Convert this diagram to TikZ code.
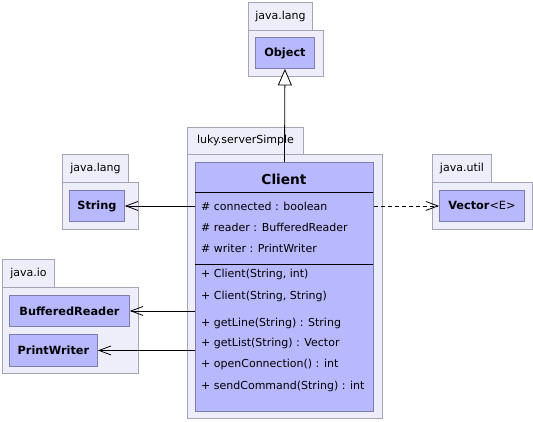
\documentclass[tikz,border=0pt]{standalone}
\usepackage{fontspec}
\setmainfont{DejaVu Sans}
\usetikzlibrary{arrows.meta}
\definecolor{pkgfill}{RGB}{238,238,250}
\definecolor{pkgline}{RGB}{165,165,185}
\definecolor{clsfill}{RGB}{184,184,255}
\definecolor{clsline}{RGB}{125,125,175}
\tikzset{
  pkgbox/.style={draw=pkgline, fill=pkgfill, line width=0.9pt, inner sep=0pt, anchor=north west},
  pkgtab/.style={pkgbox, font=\fontsize{11}{13}\selectfont},
  clsbox/.style={draw=clsline, fill=clsfill, line width=0.9pt, inner sep=0pt, anchor=north west, font=\fontsize{11.3}{13}\selectfont\bfseries},
  member/.style={anchor=west, inner sep=0pt, font=\fontsize{11}{13}\selectfont},
  sep/.style={line width=0.8pt, black},
  assoc/.style={line width=0.8pt, -{Straight Barb[length=12pt,width=9pt,line width=0.8pt]}},
  dep/.style={assoc, dash pattern=on 4pt off 3pt},
  inherit/.style={line width=0.8pt, -{Triangle[open, length=16.5pt, width=14pt, fill=white, line width=0.8pt]}}
}
\begin{document}
\begin{tikzpicture}[x=1pt,y=-1pt]
\useasboundingbox (0,0) rectangle (533,421);

% java.lang (top)
\node[pkgtab, minimum width=64pt, minimum height=28pt] (tabA) at (248,2) {java.lang};
\node[pkgbox, minimum width=75pt, minimum height=46pt] (pkgA) at (248,30) {};
\node[clsbox, minimum width=59pt, minimum height=31pt] (object) at (255,37) {Object};

% luky.serverSimple
\node[pkgtab, minimum width=116pt, minimum height=27pt] (tabB) at (187,127) {luky.serverSimple};
\node[pkgbox, minimum width=195pt, minimum height=264pt] (pkgB) at (187,154) {};
\node[clsbox, minimum width=178pt, minimum height=249pt] (client) at (195,162) {};
\node[inner sep=0pt, font=\fontsize{13.7}{16}\selectfont\bfseries] (ctitle) at (284,179) {Client};
\draw[sep] (195,192) coordinate (s1a) -- (373,192) coordinate (s1b);
\node[member] (a1) at (201,206) {\# connected : boolean};
\node[member] (a2) at (201,227) {\# reader : BufferedReader};
\node[member] (a3) at (201,248) {\# writer : PrintWriter};
\draw[sep] (195,264) coordinate (s2a) -- (373,264) coordinate (s2b);
\node[member] (o1) at (201,274) {+ Client(String, int)};
\node[member] (o2) at (201,296) {+ Client(String, String)};
\node[member] (o3) at (201,323) {+ getLine(String) : String};
\node[member] (o4) at (201,343) {+ getList(String) : Vector};
\node[member] (o5) at (201,364) {+ openConnection() : int};
\node[member] (o6) at (201,386) {+ sendCommand(String) : int};

% java.lang (left)
\node[pkgtab, minimum width=66pt, minimum height=28pt] (tabC) at (62,154) {java.lang};
\node[pkgbox, minimum width=76pt, minimum height=47pt] (pkgC) at (62,182) {};
\node[clsbox, minimum width=55pt, minimum height=31pt] (string) at (69,190) {String};

% java.io
\node[pkgtab, minimum width=52pt, minimum height=28pt] (tabD) at (2,259) {java.io};
\node[pkgbox, minimum width=136pt, minimum height=86pt] (pkgD) at (2,287) {};
\node[clsbox, minimum width=120pt, minimum height=31pt] (breader) at (9,295) {BufferedReader};
\node[clsbox, minimum width=88pt, minimum height=32pt] (pwriter) at (9,334) {PrintWriter};

% java.util
\node[pkgtab, minimum width=59pt, minimum height=28pt] (tabE) at (432,154) {java.util};
\node[pkgbox, minimum width=100pt, minimum height=47pt] (pkgE) at (432,182) {};
\node[clsbox, minimum width=85pt, minimum height=31pt] (vector) at (439,190) {Vector\textmd{<E>}};

% connectors
\draw[inherit] (client.north) -- (object.south);
\draw[assoc] (string.east -| client.west) -- (string.east);
\draw[assoc] (breader.east -| client.west) -- (breader.east);
\draw[assoc] (pwriter.east -| client.west) -- (pwriter.east);
\draw[dep] (vector.west -| client.east) -- (vector.west);
\end{tikzpicture}
\end{document}
